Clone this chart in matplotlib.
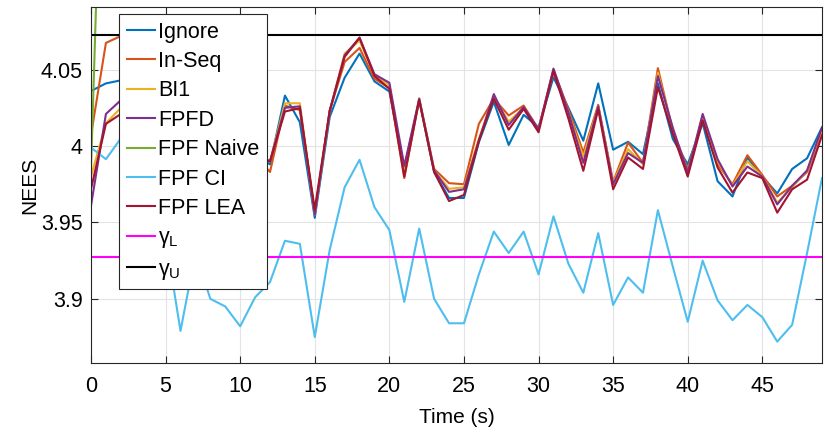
import matplotlib
matplotlib.use('Agg')
import matplotlib.pyplot as plt
import numpy as np

plt.rcParams['font.family'] = ['Liberation Sans', 'DejaVu Sans']
plt.rcParams['mathtext.fontset'] = 'custom'
plt.rcParams['mathtext.rm'] = 'Liberation Sans'
plt.rcParams['mathtext.it'] = 'Liberation Sans:italic'

# time steps (s)
t = np.arange(50)

ignore = [4.036, 4.041, 4.043, 4.035, 4.020, 4.010, 4.000, 4.005, 4.010, 4.000,
          3.995, 3.994, 3.988, 4.033, 4.0156, 3.953, 4.019, 4.0447, 4.0605, 4.0423,
          4.0357, 3.985, 4.030, 3.983, 3.966, 3.966, 4.0025, 4.029, 4.0007, 4.0204,
          4.0123, 4.045, 4.025, 4.0035, 4.041, 3.9976, 4.0028, 3.9947, 4.041, 4.0046,
          3.988, 4.015, 3.977, 3.967, 3.9925, 3.980, 3.969, 3.985, 3.992, 4.0123]
in_seq = [4.007, 4.0675, 4.072, 4.050, 4.030, 4.020, 4.010, 4.000, 4.005, 4.000,
          3.995, 3.994, 3.983, 4.0265, 4.0235, 3.956, 4.023, 4.055, 4.0642, 4.044,
          4.038, 3.979, 4.031, 3.985, 3.9757, 3.975, 4.0145, 4.031, 4.020, 4.0265,
          4.011, 4.050, 4.024, 3.9958, 4.027, 3.9765, 4.0023, 3.989, 4.051, 4.010,
          3.985, 4.017, 3.988, 3.975, 3.994, 3.981, 3.967, 3.974, 3.983, 4.009]
bi1 = [3.980, 4.015, 4.025, 4.020, 4.010, 4.005, 4.000, 4.000, 4.005, 3.998,
       3.995, 3.994, 3.990, 4.028, 4.028, 3.955, 4.023, 4.0605, 4.069, 4.046,
       4.040, 3.982, 4.031, 3.984, 3.972, 3.973, 4.005, 4.032, 4.016, 4.025,
       4.011, 4.049, 4.022, 3.993, 4.026, 3.976, 3.998, 3.988, 4.048, 4.010,
       3.983, 4.020, 3.990, 3.974, 3.990, 3.980, 3.963, 3.973, 3.984, 4.010]
fpfd = [3.961, 4.021, 4.030, 4.020, 4.010, 4.005, 4.000, 4.000, 4.005, 3.998,
        3.995, 3.994, 3.990, 4.025, 4.026, 3.955, 4.023, 4.0594, 4.0709, 4.047,
        4.0414, 3.987, 4.031, 3.984, 3.970, 3.9717, 4.0035, 4.034, 4.0138, 4.0255,
        4.011, 4.0507, 4.022, 3.989, 4.026, 3.975, 3.9954, 3.989, 4.0458, 4.012,
        3.9827, 4.021, 3.9914, 3.9735, 3.9866, 3.980, 3.9618, 3.974, 3.984, 4.012]
fpf_naive = [3.985, 4.30, 4.62, 4.95, 5.27, 5.60, 5.93, 6.25, 6.58, 6.90,
             7.23, 7.55, 7.88, 8.21, 8.53, 8.86, 9.18, 9.51, 9.84, 10.16,
             10.49, 10.81, 11.14, 11.47, 11.79, 12.12, 12.44, 12.77, 13.10, 13.42,
             13.75, 14.07, 14.40, 14.73, 15.05, 15.38, 15.70, 16.03, 16.36, 16.68,
             17.01, 17.33, 17.66, 17.99, 18.31, 18.64, 18.96, 19.29, 19.62, 19.94]
fpf_ci = [3.999, 3.9914, 4.005, 3.990, 3.965, 3.940, 3.879, 3.930, 3.900, 3.895,
          3.882, 3.901, 3.911, 3.938, 3.936, 3.875, 3.932, 3.973, 3.991, 3.960,
          3.945, 3.898, 3.946, 3.900, 3.884, 3.884, 3.916, 3.944, 3.930, 3.944,
          3.916, 3.954, 3.923, 3.904, 3.943, 3.896, 3.914, 3.904, 3.958, 3.921,
          3.885, 3.925, 3.899, 3.886, 3.896, 3.888, 3.872, 3.883, 3.930, 3.979]
fpf_lea = [3.972, 4.0145, 4.021, 4.015, 4.008, 4.003, 4.000, 4.000, 4.003, 3.997,
           3.995, 3.994, 3.990, 4.0226, 4.0248, 3.9586, 4.023, 4.0583, 4.0709, 4.0458,
           4.0375, 3.980, 4.030, 3.983, 3.964, 3.968, 4.0035, 4.031, 4.0107, 4.0243,
           4.009, 4.049, 4.018, 3.9838, 4.024, 3.9717, 3.9925, 3.985, 4.0386, 4.008,
           3.980, 4.0167, 3.986, 3.9695, 3.9827, 3.979, 3.9564, 3.9717, 3.978, 4.007]
gamma_l = 3.9273
gamma_u = 4.0727

series = [
    ('Ignore', ignore, '#0072BD'),
    ('In-Seq', in_seq, '#D95319'),
    ('BI1', bi1, '#EDB120'),
    ('FPFD', fpfd, '#7E2F8E'),
    ('FPF Naive', fpf_naive, '#77AC30'),
    ('FPF CI', fpf_ci, '#4DBEEE'),
    ('FPF LEA', fpf_lea, '#A2142F'),
]

fig = plt.figure(figsize=(8.25, 4.34), dpi=100)
ax = fig.add_axes([91 / 825, 1 - 363 / 434, (822 - 91) / 825, (363 - 7) / 434])

for name, vals, col in series:
    ax.plot(t, vals, color=col, lw=1.5, label=name)
ax.plot([t[0], t[-1]], [gamma_l, gamma_l], color='#FF00FF', lw=1.5, label='γ$_{\\mathrm{L}}$')
ax.plot([t[0], t[-1]], [gamma_u, gamma_u], color='black', lw=1.5, label='γ$_{\\mathrm{U}}$')

ax.set_xlim(0, 49)
ax.set_ylim(3.858, 4.091)
ax.set_xticks(np.arange(0, 50, 5))
ax.set_yticks([3.9, 3.95, 4.0, 4.05])
ax.set_yticklabels(['3.9', '3.95', '4', '4.05'])
ax.tick_params(direction='in', length=5, width=0.8, labelsize=15.5, colors='#262626',
               top=True, right=True, labelcolor='black')
ax.tick_params(axis='x', pad=9)
ax.tick_params(axis='y', pad=6)
ax.grid(True, color='#e3e3e3', lw=0.8)
ax.set_axisbelow(True)
for s in ax.spines.values():
    s.set_color('#262626')
    s.set_linewidth(0.8)

ax.set_xlabel('Time (s)', fontsize=15, labelpad=8)
ax.set_ylabel('NEES', fontsize=15, labelpad=1)

leg = ax.legend(loc='upper left', bbox_to_anchor=(119 / 825, 1 - 14 / 434),
                bbox_transform=fig.transFigure, fontsize=15.5, frameon=True,
                fancybox=False, framealpha=1, edgecolor='#262626',
                handlelength=1.3, handletextpad=0.15, labelspacing=0.39,
                borderpad=0.35, borderaxespad=0)
leg.get_frame().set_linewidth(0.8)

fig.savefig('out.png', dpi=100)
